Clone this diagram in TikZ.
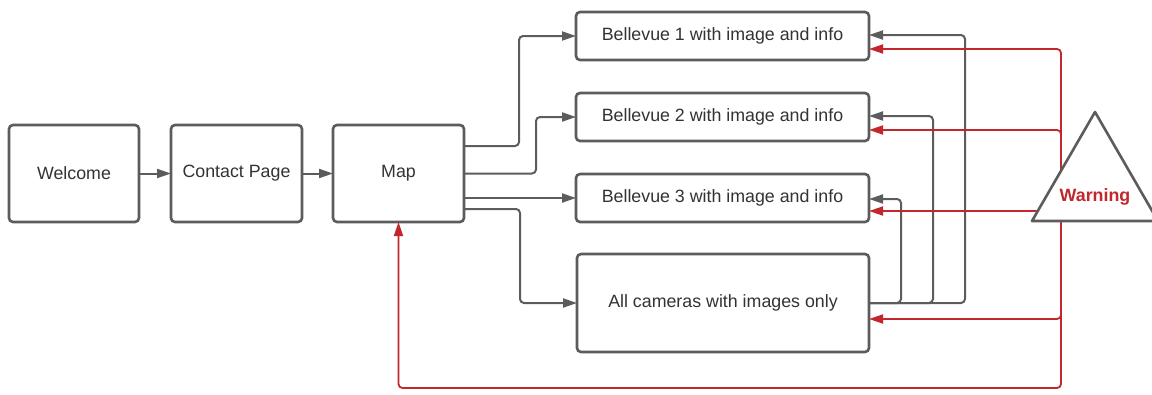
\documentclass[tikz,border=0pt]{standalone}
\usepackage{fontspec}
\setmainfont{Liberation Sans}
\usetikzlibrary{arrows.meta}

\definecolor{edge}{HTML}{5C5C5C}
\definecolor{ink}{HTML}{333333}
\definecolor{alertred}{HTML}{C1272D}

\tikzset{
  pagebox/.style={draw=edge, line width=2.6pt, rounded corners=4pt, fill=white,
    text=ink, font=\fontsize{17.8}{20}\selectfont, inner sep=0pt, outer sep=0pt},
  conn/.style={draw=edge, line width=2pt, rounded corners=4pt,
    -{Triangle[length=14pt,width=9pt]}},
  alert/.style={draw=alertred, line width=1.8pt, rounded corners=4pt,
    -{Triangle[length=14pt,width=9pt]}},
}

\begin{document}
\begin{tikzpicture}[x=1pt, y=-1pt]
\useasboundingbox (0,0) rectangle (1152,394);

% page boxes
\node[pagebox, minimum width=130pt, minimum height=97pt] (welcome) at (74,173.5) {Welcome};
\node[pagebox, minimum width=131pt, minimum height=97pt] (contact) at (236.5,173.5) {Contact Page};
\node[pagebox, minimum width=131pt, minimum height=97pt] (map) at (398.5,173.5) {Map};
\node[pagebox, minimum width=293pt, minimum height=48pt] (b1) at (722.5,36) {Bellevue 1 with image and info};
\node[pagebox, minimum width=293pt, minimum height=48pt] (b2) at (722.5,117) {Bellevue 2 with image and info};
\node[pagebox, minimum width=293pt, minimum height=48pt] (b3) at (722.5,198) {Bellevue 3 with image and info};
\node[pagebox, minimum width=292pt, minimum height=98pt] (allc) at (723,303) {All cameras with images only};

% main flow
\draw[conn] (welcome.east) -- (contact.west);
\draw[conn] (contact.east) -- (map.west);

% map to the camera pages
\draw[conn] ([yshift=27.5pt]map.east) -- ++(55,0) |- (b1.west);
\draw[conn] (map.east) -- ++(72,0) |- (b2.west);
\draw[conn] (map.east |- b3.west) -- (b3.west);
\draw[conn] ([yshift=-35.5pt]map.east) -- ++(56,0) |- (allc.west);

% all cameras back to the single camera pages
\draw[conn] (allc.east) -- ++(96,0) |- ([yshift=1pt]b1.east);
\draw[conn] (allc.east) -- ++(64,0) |- ([yshift=1pt]b2.east);
\draw[conn] (allc.east) -- ++(32,0) |- ([yshift=-1pt]b3.east);

% warning links (start hidden behind the triangle)
\coordinate (wsrc) at (1061,205);
\draw[alert] (wsrc) |- ([yshift=-13pt]b1.east);
\draw[alert] (wsrc) |- ([yshift=-13pt]b2.east);
\draw[alert] ([yshift=-13pt]b3.east -| wsrc) -- ([yshift=-13pt]b3.east);
\draw[alert] (wsrc) |- ([yshift=-16pt]allc.east);
\draw[alert] (wsrc) -- (1061,388) -| (map.south);

% warning sign
\draw[draw=edge, line width=2.6pt, line join=round, fill=white]
  (1095,112) -- (1032,221) -- (1158,221) -- cycle;
\node[text=alertred, font=\fontsize{17.8}{20}\selectfont\bfseries] (warn) at (1095,197) {Warning};
\end{tikzpicture}
\end{document}
